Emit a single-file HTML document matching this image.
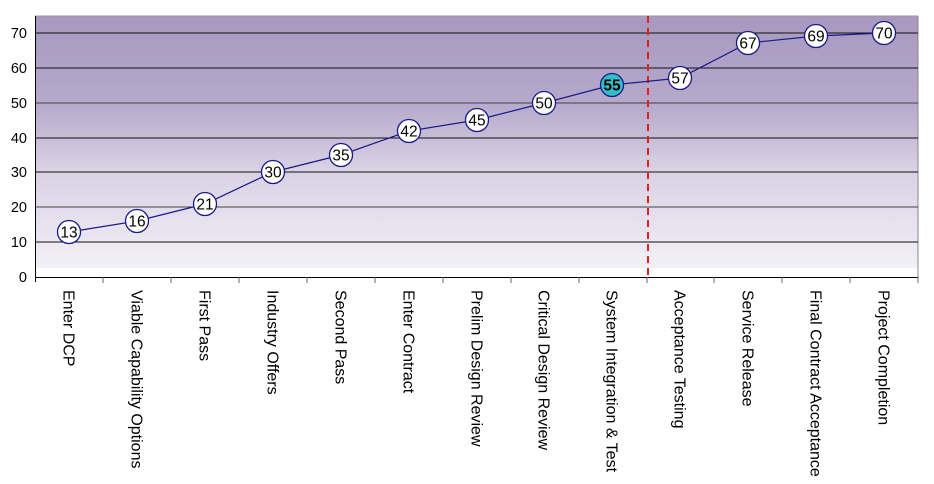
<!DOCTYPE html><html><head><style>body{margin:0;background:#fff}svg{display:block;font-family:"Liberation Sans",sans-serif}</style></head><body>
<svg width="934" height="484" viewBox="0 0 934 484">
<defs><linearGradient id="g" x1="0" y1="0" x2="0" y2="1"><stop offset="0" stop-color="#a898bf"/><stop offset="0.35" stop-color="#b6a9cb"/><stop offset="0.6" stop-color="#d8d0e3"/><stop offset="1" stop-color="#f2f0f6"/></linearGradient></defs>
<rect x="35" y="16" width="883" height="252" fill="url(#g)"/>
<line x1="35" y1="16" x2="918" y2="16" stroke="#999"/>
<line x1="918" y1="16" x2="918" y2="277" stroke="#888"/>
<g stroke="#111" stroke-width="1">
<line x1="35" x2="918" y1="33" y2="33"/><line x1="35" x2="918" y1="68" y2="68"/><line x1="35" x2="918" y1="103" y2="103" stroke="#444"/><line x1="35" x2="918" y1="138" y2="138"/><line x1="35" x2="918" y1="172" y2="172"/><line x1="35" x2="918" y1="207" y2="207" stroke="#444"/><line x1="35" x2="918" y1="242" y2="242"/>
</g>
<line x1="35" y1="277.5" x2="918" y2="277.5" stroke="#000"/>
<line x1="35.5" y1="16" x2="35.5" y2="282" stroke="#000"/>
<g stroke="#666">
<line x1="103" x2="103" y1="277" y2="283"/><line x1="171" x2="171" y1="277" y2="283"/><line x1="239" x2="239" y1="277" y2="283"/><line x1="307" x2="307" y1="277" y2="283"/><line x1="375" x2="375" y1="277" y2="283"/><line x1="443" x2="443" y1="277" y2="283"/><line x1="511" x2="511" y1="277" y2="283"/><line x1="579" x2="579" y1="277" y2="283"/><line x1="647" x2="647" y1="277" y2="283"/><line x1="714" x2="714" y1="277" y2="283"/><line x1="782" x2="782" y1="277" y2="283"/><line x1="850" x2="850" y1="277" y2="283"/><line x1="918" x2="918" y1="277" y2="283"/>
</g>
<g font-size="14.5" text-anchor="end" fill="#000">
<text x="27" y="38">70</text><text x="27" y="73">60</text><text x="27" y="108">50</text><text x="27" y="143">40</text><text x="27" y="177">30</text><text x="27" y="212">20</text><text x="27" y="247">10</text><text x="27" y="282">0</text>
</g>
<line x1="648" y1="16" x2="648" y2="277" stroke="#e02020" stroke-width="2" stroke-dasharray="7,5"/>
<polyline fill="none" stroke="#1a1a8c" stroke-width="1.2" points="69,232 137,221 205,204 273,172 341,155 409,131 477,120 544,103 612,85 680,78 748,43 816,36 884,33"/>
<g stroke="#1a1a8c" stroke-width="1.3" fill="#fff">
<circle cx="69" cy="232" r="11.5"/><circle cx="137" cy="221" r="11.5"/><circle cx="205" cy="204" r="11.5"/><circle cx="273" cy="172" r="11.5"/><circle cx="341" cy="155" r="11.5"/><circle cx="409" cy="131" r="11.5"/><circle cx="477" cy="120" r="11.5"/><circle cx="544" cy="103" r="11.5"/><circle cx="612" cy="85" r="11.5" fill="#33bfc7"/><circle cx="680" cy="78" r="11.5"/><circle cx="748" cy="43" r="11.5"/><circle cx="816" cy="36" r="11.5"/><circle cx="884" cy="33" r="11.5"/>
</g>
<g font-size="15.5" text-anchor="middle" fill="#000">
<text x="69" y="237.5">13</text><text x="137" y="226.5">16</text><text x="205" y="209.5">21</text><text x="273" y="177.5">30</text><text x="341" y="160.5">35</text><text x="409" y="136.5">42</text><text x="477" y="125.5">45</text><text x="544" y="108.5">50</text><text x="612" y="90.5" font-weight="bold">55</text><text x="680" y="83.5">57</text><text x="748" y="48.5">67</text><text x="816" y="41.5">69</text><text x="884" y="38.5">70</text>
</g>
<g font-size="16" fill="#000">
<text transform="translate(63.5,290) rotate(90)">Enter DCP</text>
<text transform="translate(131.5,290) rotate(90)">Viable Capability Options</text>
<text transform="translate(199.5,290) rotate(90)">First Pass</text>
<text transform="translate(267.5,290) rotate(90)">Industry Offers</text>
<text transform="translate(335.5,290) rotate(90)">Second Pass</text>
<text transform="translate(403.5,290) rotate(90)">Enter Contract</text>
<text transform="translate(471.5,290) rotate(90)">Prelim Design Review</text>
<text transform="translate(538.5,290) rotate(90)">Critical Design Review</text>
<text transform="translate(606.5,290) rotate(90)">System Integration &amp; Test</text>
<text transform="translate(674.5,290) rotate(90)">Acceptance Testing</text>
<text transform="translate(742.5,290) rotate(90)">Service Release</text>
<text transform="translate(810.5,290) rotate(90)">Final Contract Acceptance</text>
<text transform="translate(878.5,290) rotate(90)">Project Completion</text>
</g>
</svg></body></html>
